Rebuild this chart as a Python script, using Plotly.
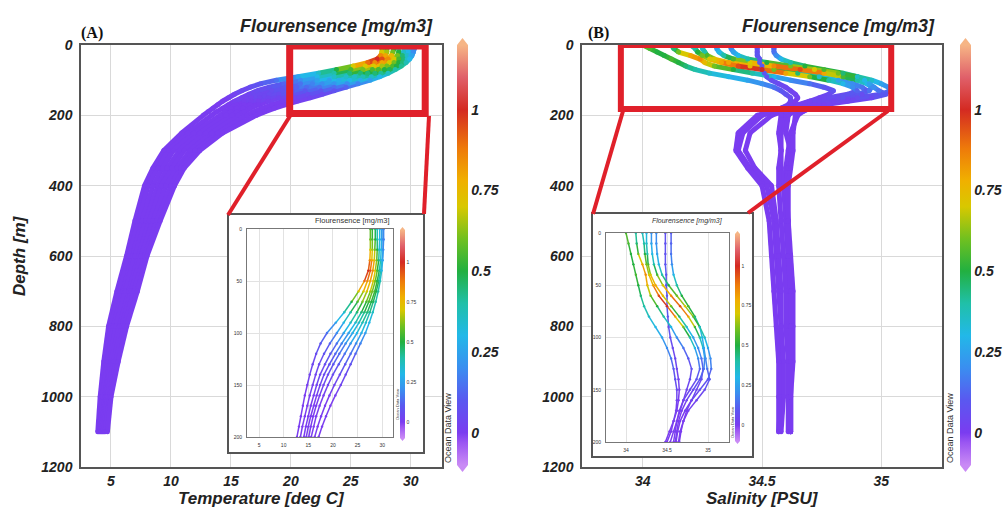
import plotly.graph_objects as go
from plotly.colors import sample_colorscale

W, H = 1003, 508

# ---------------- data ----------------
depth_m = [0, 10, 20, 30, 40, 50, 60, 70, 80, 90, 100, 110, 120, 130, 140, 150,
           160, 170, 180, 190, 200, 250, 300, 350, 400, 500, 600, 700, 800, 900, 1000, 1100]

temperature_profiles = [
    [27.6, 27.6, 27.6, 27.5, 27.2, 26.4, 25.2, 23.8, 22.3, 20.6, 18.8, 17.5, 16.6, 15.9, 15.3, 14.8,
     14.3, 13.9, 13.5, 13.1, 12.7, 10.9, 9.4, 8.5, 7.8, 7.0, 6.3, 5.5, 4.8, 4.4, 4.1, 3.9],
    [28.0, 28.0, 28.0, 27.9, 27.6, 27.0, 26.2, 25.0, 23.6, 22.2, 20.8, 19.4, 18.2, 17.2, 16.5, 15.9,
     15.3, 14.8, 14.3, 13.8, 13.4, 11.4, 9.8, 8.9, 8.1, 7.3, 6.5, 5.7, 5.0, 4.5, 4.2, 4.0],
    [28.6, 28.6, 28.5, 28.4, 28.1, 27.6, 26.9, 26.0, 24.9, 23.6, 22.2, 20.8, 19.5, 18.4, 17.4, 16.7,
     16.1, 15.5, 15.0, 14.5, 14.1, 11.9, 10.2, 9.3, 8.5, 7.6, 6.8, 6.0, 5.2, 4.7, 4.3, 4.1],
    [29.0, 29.0, 29.0, 28.9, 28.6, 28.2, 27.6, 26.8, 25.8, 24.6, 23.2, 21.8, 20.5, 19.3, 18.2, 17.4,
     16.7, 16.1, 15.5, 15.0, 14.6, 12.4, 10.7, 9.7, 8.9, 7.9, 7.0, 6.2, 5.4, 4.9, 4.5, 4.2],
    [29.5, 29.5, 29.4, 29.3, 29.0, 28.6, 28.0, 27.3, 26.4, 25.3, 24.0, 22.6, 21.3, 20.1, 19.0, 18.1,
     17.3, 16.6, 16.0, 15.5, 15.1, 12.9, 11.1, 10.1, 9.2, 8.2, 7.3, 6.5, 5.7, 5.0, 4.6, 4.3],
    [29.9, 29.9, 29.8, 29.7, 29.4, 29.0, 28.5, 27.8, 27.0, 26.0, 24.9, 23.6, 22.4, 21.2, 20.0, 19.0,
     18.1, 17.3, 16.6, 16.1, 15.6, 13.4, 11.6, 10.5, 9.6, 8.5, 7.5, 6.7, 5.9, 5.2, 4.7, 4.4],
    [30.2, 30.2, 30.2, 30.0, 29.7, 29.3, 28.8, 28.2, 27.5, 26.7, 25.8, 24.7, 23.6, 22.5, 21.4, 20.3,
     19.3, 18.4, 17.6, 16.9, 16.3, 13.9, 12.0, 10.8, 10.0, 8.8, 7.8, 6.9, 6.1, 5.4, 4.9, 4.5],
    [30.3, 30.3, 30.2, 30.1, 29.9, 29.6, 29.2, 28.7, 28.1, 27.4, 26.6, 25.6, 24.6, 23.6, 22.6, 21.6,
     20.5, 19.5, 18.6, 17.8, 17.1, 14.3, 12.4, 11.1, 10.3, 9.1, 8.0, 7.2, 6.3, 5.6, 5.0, 4.7],
]

fluorescence_temp = [
    [0.55, 0.6, 0.7, 0.85, 1.0, 0.9, 0.7, 0.5, 0.35, 0.25, 0.15, 0.1, 0.06, 0.04, 0.02, 0.01,
     0, 0, 0, 0, 0, 0, 0, 0, 0, 0, 0, 0, 0, 0, 0, 0],
    [0.5, 0.55, 0.65, 0.8, 0.95, 0.85, 0.7, 0.55, 0.4, 0.3, 0.2, 0.12, 0.08, 0.05, 0.03, 0.02,
     0.01, 0, 0, 0, 0, 0, 0, 0, 0, 0, 0, 0, 0, 0, 0, 0],
    [0.45, 0.5, 0.6, 0.75, 0.85, 0.8, 0.7, 0.6, 0.45, 0.35, 0.25, 0.15, 0.1, 0.06, 0.04, 0.02,
     0.01, 0, 0, 0, 0, 0, 0, 0, 0, 0, 0, 0, 0, 0, 0, 0],
    [0.35, 0.4, 0.5, 0.6, 0.7, 0.7, 0.65, 0.55, 0.45, 0.35, 0.25, 0.18, 0.12, 0.08, 0.05, 0.03,
     0.01, 0, 0, 0, 0, 0, 0, 0, 0, 0, 0, 0, 0, 0, 0, 0],
    [0.3, 0.3, 0.35, 0.45, 0.55, 0.6, 0.6, 0.55, 0.45, 0.35, 0.28, 0.2, 0.14, 0.09, 0.05, 0.03,
     0.01, 0, 0, 0, 0, 0, 0, 0, 0, 0, 0, 0, 0, 0, 0, 0],
    [0.25, 0.25, 0.3, 0.35, 0.45, 0.5, 0.55, 0.5, 0.45, 0.38, 0.3, 0.22, 0.15, 0.1, 0.06, 0.03,
     0.01, 0, 0, 0, 0, 0, 0, 0, 0, 0, 0, 0, 0, 0, 0, 0],
    [0.2, 0.2, 0.22, 0.28, 0.35, 0.45, 0.5, 0.48, 0.42, 0.35, 0.28, 0.2, 0.14, 0.09, 0.05, 0.03,
     0.01, 0, 0, 0, 0, 0, 0, 0, 0, 0, 0, 0, 0, 0, 0, 0],
    [0.18, 0.18, 0.2, 0.25, 0.3, 0.38, 0.42, 0.4, 0.36, 0.3, 0.24, 0.18, 0.12, 0.08, 0.05, 0.03,
     0.01, 0, 0, 0, 0, 0, 0, 0, 0, 0, 0, 0, 0, 0, 0, 0],
]

salinity_profiles = [
    [34.00, 34.03, 34.06, 34.09, 34.12, 34.15, 34.18, 34.22, 34.28, 34.36, 34.44, 34.50, 34.55, 34.58, 34.60, 34.62,
     34.62, 34.61, 34.58, 34.55, 34.50, 34.42, 34.40, 34.45, 34.52, 34.55, 34.56, 34.57, 34.58, 34.58, 34.58, 34.57],
    [34.12, 34.13, 34.15, 34.20, 34.24, 34.26, 34.30, 34.38, 34.46, 34.55, 34.62, 34.70, 34.76, 34.80, 34.78, 34.74,
     34.70, 34.66, 34.62, 34.58, 34.54, 34.45, 34.43, 34.47, 34.54, 34.56, 34.57, 34.58, 34.58, 34.59, 34.59, 34.58],
    [34.25, 34.25, 34.26, 34.27, 34.30, 34.36, 34.45, 34.55, 34.65, 34.74, 34.82, 34.88, 34.92, 34.94, 34.92, 34.86,
     34.80, 34.74, 34.70, 34.67, 34.65, 34.62, 34.61, 34.60, 34.60, 34.60, 34.61, 34.61, 34.62, 34.62, 34.62, 34.62],
    [34.31, 34.31, 34.32, 34.34, 34.38, 34.45, 34.55, 34.66, 34.76, 34.84, 34.90, 34.94, 34.96, 34.95, 34.90, 34.82,
     34.74, 34.68, 34.64, 34.62, 34.60, 34.58, 34.58, 34.58, 34.59, 34.60, 34.61, 34.62, 34.62, 34.62, 34.62, 34.62],
    [34.37, 34.37, 34.38, 34.40, 34.44, 34.52, 34.62, 34.72, 34.82, 34.90, 34.96, 35.00, 35.03, 35.04, 35.00, 34.90,
     34.80, 34.72, 34.66, 34.63, 34.61, 34.60, 34.62, 34.61, 34.60, 34.61, 34.62, 34.63, 34.63, 34.63, 34.62, 34.62],
    [34.48, 34.48, 34.48, 34.48, 34.49, 34.49, 34.50, 34.50, 34.51, 34.52, 34.54, 34.57, 34.60, 34.62, 34.64, 34.65,
     34.64, 34.62, 34.58, 34.53, 34.48, 34.40, 34.39, 34.44, 34.50, 34.53, 34.54, 34.55, 34.56, 34.57, 34.57, 34.57],
    [34.20, 34.22, 34.23, 34.25, 34.28, 34.33, 34.40, 34.50, 34.60, 34.70, 34.78, 34.84, 34.88, 34.90, 34.86, 34.78,
     34.70, 34.65, 34.62, 34.60, 34.58, 34.57, 34.58, 34.57, 34.57, 34.58, 34.59, 34.60, 34.60, 34.61, 34.61, 34.61],
    [34.55, 34.55, 34.55, 34.56, 34.58, 34.62, 34.68, 34.76, 34.84, 34.90, 34.93, 34.95, 34.97, 34.99, 35.02, 34.96,
     34.86, 34.76, 34.70, 34.66, 34.64, 34.63, 34.63, 34.62, 34.61, 34.61, 34.61, 34.62, 34.62, 34.62, 34.62, 34.62],
]

fluorescence_sal = [
    [0.55, 0.55, 0.5, 0.5, 0.55, 0.5, 0.45, 0.4, 0.35, 0.3, 0.25, 0.2, 0.15, 0.1, 0.08, 0.05,
     0.03, 0.02, 0.01, 0, 0, 0, 0, 0, 0, 0, 0, 0, 0, 0, 0, 0],
    [0.4, 0.45, 0.6, 0.8, 0.85, 0.75, 0.6, 0.5, 0.4, 0.3, 0.2, 0.15, 0.1, 0.08, 0.05, 0.03,
     0.02, 0.01, 0, 0, 0, 0, 0, 0, 0, 0, 0, 0, 0, 0, 0, 0],
    [0.3, 0.35, 0.4, 0.55, 0.7, 0.8, 0.75, 0.6, 0.45, 0.35, 0.25, 0.2, 0.15, 0.1, 0.06, 0.04,
     0.02, 0.01, 0, 0, 0, 0, 0, 0, 0, 0, 0, 0, 0, 0, 0, 0],
    [0.2, 0.25, 0.3, 0.4, 0.55, 0.7, 0.85, 0.95, 0.8, 0.55, 0.4, 0.3, 0.2, 0.15, 0.1, 0.05,
     0.03, 0.01, 0, 0, 0, 0, 0, 0, 0, 0, 0, 0, 0, 0, 0, 0],
    [0.2, 0.2, 0.25, 0.3, 0.4, 0.5, 0.6, 0.7, 0.6, 0.45, 0.35, 0.25, 0.2, 0.15, 0.1, 0.06,
     0.03, 0.01, 0, 0, 0, 0, 0, 0, 0, 0, 0, 0, 0, 0, 0, 0],
    [0.08, 0.08, 0.08, 0.09, 0.1, 0.1, 0.1, 0.1, 0.09, 0.08, 0.06, 0.05, 0.04, 0.03, 0.02, 0.01,
     0, 0, 0, 0, 0, 0, 0, 0, 0, 0, 0, 0, 0, 0, 0, 0],
    [0.35, 0.4, 0.5, 0.6, 0.7, 0.8, 0.95, 1.0, 0.8, 0.6, 0.4, 0.3, 0.2, 0.12, 0.08, 0.05,
     0.02, 0.01, 0, 0, 0, 0, 0, 0, 0, 0, 0, 0, 0, 0, 0, 0],
    [0.1, 0.12, 0.15, 0.2, 0.3, 0.4, 0.5, 0.55, 0.45, 0.35, 0.3, 0.25, 0.2, 0.15, 0.1, 0.05,
     0.03, 0.01, 0, 0, 0, 0, 0, 0, 0, 0, 0, 0, 0, 0, 0, 0],
]

temp_ticks = [5, 10, 15, 20, 25, 30]
sal_ticks = [34, 34.5, 35]
sal_ticktext = ["34", "34.5", "35"]
depth_ticks = [0, 200, 400, 600, 800, 1000, 1200]
inset_depth_ticks = [0, 50, 100, 150, 200]
cbar_ticks = [0, 0.25, 0.5, 0.75, 1]
cbar_ticktext = ["0", "0.25", "0.5", "0.75", "1"]

# ---------------- styling ----------------
CMIN, CMAX = -0.1, 1.2
ODV = [
    [0.000, "#c98af5"], [0.054, "#9a55f2"], [0.077, "#7a3cf0"], [0.154, "#5a58f0"],
    [0.231, "#3a8ef0"], [0.308, "#22b8e8"], [0.385, "#20c0a8"], [0.462, "#22b040"],
    [0.538, "#70c020"], [0.615, "#d8c800"], [0.677, "#f0b000"], [0.754, "#ee7a0a"],
    [0.846, "#d42a22"], [0.923, "#e0606a"], [1.000, "#f6b585"],
]
SANS = "Liberation Sans, Arial, sans-serif"
BI = dict(family=SANS, color="#222", weight="bold", style="italic")
RED = "#e0202a"
FRAME = "#555"
GRID = "#d9d9d9"


def px(x):
    return x / W


def py(y):
    return 1 - y / H


fig = go.Figure()


def add_profiles(xs_list, f_list, xa, ya, width, msize, cbar):
    bins = {}
    for xs, fs in zip(xs_list, f_list):
        for i in range(len(depth_m) - 1):
            v = round(((fs[i] + fs[i + 1]) / 2) / 0.02) * 0.02
            b = bins.setdefault(v, ([], []))
            b[0].extend([xs[i], xs[i + 1], None])
            b[1].extend([depth_m[i], depth_m[i + 1], None])
    for v in sorted(bins):
        col = sample_colorscale(ODV, [min(1, max(0, (v - CMIN) / (CMAX - CMIN)))])[0]
        fig.add_trace(go.Scatter(x=bins[v][0], y=bins[v][1], mode="lines",
                                 line=dict(color=col, width=width),
                                 xaxis=xa, yaxis=ya, hoverinfo="skip", showlegend=False))
    allx, ally, allf = [], [], []
    for xs, fs in zip(xs_list, f_list):
        allx += xs
        ally += depth_m
        allf += fs
    fig.add_trace(go.Scatter(
        x=allx, y=ally, mode="markers", xaxis=xa, yaxis=ya, showlegend=False, hoverinfo="skip",
        marker=dict(color=allf, colorscale=ODV, cmin=CMIN, cmax=CMAX, size=msize,
                    line=dict(width=0), showscale=True, colorbar=cbar)))


def cbar(x0, top, bottom, thick, fsize):
    return dict(x=px(x0), xanchor="left", y=py((top + bottom) / 2), yanchor="middle",
                len=(bottom - top) / H, lenmode="fraction", thickness=thick,
                thicknessmode="pixels", xpad=0, ypad=0, outlinewidth=0,
                tickvals=cbar_ticks, ticktext=cbar_ticktext, ticks="",
                tickfont=dict(BI, size=fsize) if fsize > 8 else dict(family=SANS, size=fsize, color="#333"))


# main panels
add_profiles(temperature_profiles, fluorescence_temp, "x", "y", 5, 5, cbar(457, 45, 465, 11, 14))
add_profiles(salinity_profiles, fluorescence_sal, "x2", "y2", 5, 5, cbar(960, 45, 465, 11, 14))
# white boxes behind insets
fig.add_trace(go.Scatter(x=[None], y=[None], xaxis="x3", yaxis="y3", showlegend=False, hoverinfo="skip"))
fig.add_trace(go.Scatter(x=[None], y=[None], xaxis="x4", yaxis="y4", showlegend=False, hoverinfo="skip"))
# insets
add_profiles(temperature_profiles, fluorescence_temp, "x5", "y5", 1.5, 2.4, cbar(400, 230, 438, 5, 5))
add_profiles(salinity_profiles, fluorescence_sal, "x6", "y6", 1.5, 2.4, cbar(735, 234, 441, 5, 5))

main_x = dict(showgrid=True, gridcolor=GRID, gridwidth=1, showline=True, mirror=True,
              linecolor=FRAME, linewidth=1.5, ticks="", zeroline=False,
              tickfont=dict(BI, size=14), ticklabelstandoff=0)
main_y = dict(main_x, tickvals=depth_ticks, range=[1200, 0], ticklabelstandoff=4)
ins_ax = dict(showgrid=True, gridcolor="#e2e2e2", gridwidth=1, showline=True, mirror=True,
              linecolor="#777", linewidth=1, ticks="", zeroline=False,
              tickfont=dict(family=SANS, size=5, color="#333"), ticklabelstandoff=3)
blank = dict(showgrid=False, zeroline=False, showticklabels=False, showline=False, ticks="",
             range=[0, 1], fixedrange=True)

fig.update_layout(
    width=W, height=H, margin=dict(l=0, r=0, t=0, b=0, autoexpand=False),
    paper_bgcolor="white", plot_bgcolor="white", showlegend=False,
    xaxis=dict(main_x, domain=[px(81), px(442)], range=[2.5, 32.6], tickvals=temp_ticks, anchor="y"),
    yaxis=dict(main_y, domain=[py(467), py(45)], anchor="x"),
    xaxis2=dict(main_x, domain=[px(582), px(942)], range=[33.745, 35.255], tickvals=sal_ticks,
                ticktext=sal_ticktext, anchor="y2"),
    yaxis2=dict(main_y, domain=[py(467), py(45)], anchor="x2"),
    xaxis3=dict(blank, domain=[px(228), px(424)], anchor="y3"),
    yaxis3=dict(blank, domain=[py(453), py(214)], anchor="x3"),
    xaxis4=dict(blank, domain=[px(592), px(753)], anchor="y4"),
    yaxis4=dict(blank, domain=[py(457), py(213)], anchor="x4"),
    xaxis5=dict(ins_ax, domain=[px(247), px(393)], range=[2.56, 32.2], tickvals=temp_ticks, anchor="y5"),
    yaxis5=dict(ins_ax, domain=[py(437), py(229)], range=[200, 0], tickvals=inset_depth_ticks, anchor="x5"),
    xaxis6=dict(ins_ax, domain=[px(606), px(729)], range=[33.756, 35.256], tickvals=sal_ticks,
                ticktext=sal_ticktext, anchor="y6"),
    yaxis6=dict(ins_ax, domain=[py(442), py(233)], range=[200, 0], tickvals=inset_depth_ticks, anchor="x6"),
)

shapes = []


def tri(xl, xr, base, tip, color):
    xm = (xl + xr) / 2
    path = f"M {px(xl)},{py(base)} L {px(xm)},{py(tip)} L {px(xr)},{py(base)} Z"
    shapes.append(dict(type="path", xref="paper", yref="paper", path=path,
                       fillcolor=color, line=dict(width=0), layer="above"))


for xl, xr, top, bot, d in [(457, 468, 45, 465, 7), (960, 971, 45, 465, 7),
                             (400, 405, 230, 438, 3), (735, 740, 234, 441, 3)]:
    tri(xl, xr, top, top - d, "#f6b585")
    tri(xl, xr, bot, bot + d, "#c98af5")

# inset box frames
for x0, x1, y0, y1 in [(228, 424, 214, 453), (592, 753, 213, 457)]:
    shapes.append(dict(type="rect", xref="paper", yref="paper", x0=px(x0), x1=px(x1),
                       y0=py(y0), y1=py(y1), line=dict(color="#555", width=2), layer="above"))

# red zoom rectangles (data coordinates of zoomed region)
shapes.append(dict(type="rect", xref="x", yref="y", x0=19.9, x1=31.2, y0=3, y1=195,
                   line=dict(color=RED, width=7), layer="above"))
shapes.append(dict(type="rect", xref="x2", yref="y2", x0=33.908, x1=35.042, y0=0, y1=182,
                   line=dict(color=RED, width=6), layer="above"))
# connectors
for (a, b), (c, d) in [((290, 116), (228, 215)), ((429, 116), (424, 214)),
                       ((623, 111), (593, 214)), ((888, 111), (748, 213))]:
    shapes.append(dict(type="line", xref="paper", yref="paper", x0=px(a), y0=py(b),
                       x1=px(c), y1=py(d), line=dict(color=RED, width=4), layer="above"))

fig.update_layout(shapes=shapes)

ann = []


def text(x, y, s, font, xanchor="center", angle=0):
    ann.append(dict(x=px(x), y=py(y), xref="paper", yref="paper", text=s, showarrow=False,
                    xanchor=xanchor, yanchor="middle", font=font, textangle=angle))


text(435, 26, "Flourensence [mg/m3]", dict(BI, size=18), xanchor="right")
text(937, 26, "Flourensence [mg/m3]", dict(BI, size=18), xanchor="right")
text(79, 33, "(A)", dict(family="Liberation Serif, Times New Roman, serif", size=16, color="#111", weight="bold"), xanchor="left")
text(586, 33, "(B)", dict(family="Liberation Serif, Times New Roman, serif", size=16, color="#111", weight="bold"), xanchor="left")
text(261, 498, "Temperature [deg C]", dict(BI, size=17))
text(762, 498, "Salinity [PSU]", dict(BI, size=17))
text(19, 256, "Depth [m]", dict(BI, size=17), angle=-90)
text(448, 428, "Ocean Data View", dict(family=SANS, size=9, color="#333"), angle=-90)
text(950, 428, "Ocean Data View", dict(family=SANS, size=9, color="#333"), angle=-90)
# inset texts
text(392, 220, "Flourensence [mg/m3]", dict(family=SANS, size=7.5, color="#333"), xanchor="right")
text(725, 221, "Flourensence [mg/m3]", dict(family=SANS, size=7, color="#333", style="italic"), xanchor="right")
text(397, 405, "Ocean Data View", dict(family=SANS, size=4, color="#444"), angle=-90)
text(732, 423, "Ocean Data View", dict(family=SANS, size=4, color="#444"), angle=-90)

fig.update_layout(annotations=ann)

fig.write_html("out.html", config={"displayModeBar": False},
               post_script="document.body.style.margin='0';document.body.style.overflow='hidden';")
